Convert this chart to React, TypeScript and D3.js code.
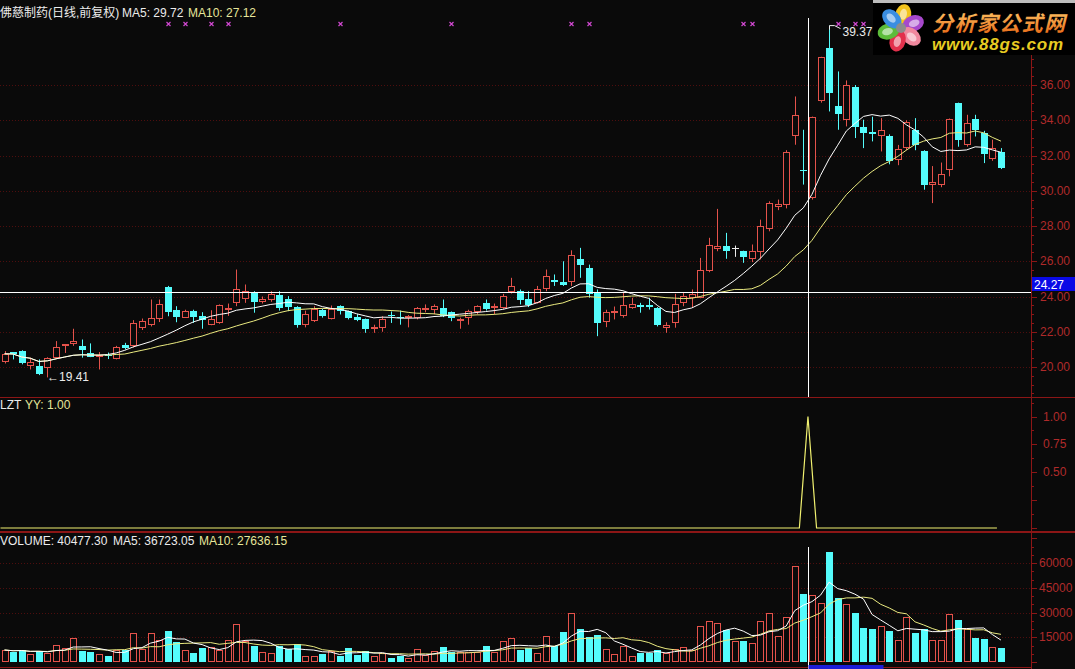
import React from 'react';
import * as d3 from 'd3';

// ── Daily bars ────────────────────────────────────────────────────────────────
const OPEN = [
  20.27, 20.84, 20.9, 20.05, 20.05, 19.96, 20.53, 21.2, 21.28, 21.18,
  20.77, 20.6, 20.7, 20.43, 21.22, 21.18, 22.23, 22.41, 22.7, 24.55,
  23.22, 22.79, 23.17, 22.88, 22.37, 22.51, 23.22, 23.64, 23.87, 24.24,
  23.7, 23.79, 24.1, 23.87, 23.42, 22.36, 22.6, 23.26, 22.74, 23.45,
  23.17, 22.85, 22.7, 22.17, 22.23, 22.95, 22.85, 22.83, 22.79, 23.3,
  23.26, 23.36, 23.11, 22.6, 22.79, 23.11, 23.64, 23.4, 23.36, 24.24,
  24.3, 23.83, 23.64, 24.44, 24.95, 24.8, 24.81, 26.1, 25.59, 24.21,
  22.54, 23.12, 22.88, 23.36, 23.5, 23.5, 23.36, 22.23, 22.51, 23.64,
  23.93, 23.93, 25.43, 26.7, 26.89, 26.76, 26.57, 26.14, 26.51, 27.84,
  29.08, 29.2, 33.08, 31.2, 29.6, 35.12, 38.09, 34.82, 34.03, 35.88,
  33.6, 33.35, 33.12, 33.08, 31.72, 32.42, 33.46, 32.23, 30.3, 30.35,
  31.2, 34.97, 32.61, 34.07, 33.27, 31.8, 32.18,
];
const HIGH = [
  20.9, 20.85, 20.95, 20.53, 20.43, 20.55, 21.47, 21.3, 22.17, 21.56,
  21.34, 20.85, 20.82, 21.2, 21.37, 22.66, 22.75, 23.83, 23.83, 24.6,
  23.45, 23.25, 23.25, 23.11, 23.22, 23.55, 23.6, 25.53, 24.68, 24.3,
  24.0, 24.3, 24.3, 24.02, 23.45, 23.2, 23.45, 23.3, 23.49, 23.5,
  23.2, 23.0, 22.75, 22.4, 22.88, 23.15, 23.2, 22.95, 23.4, 23.55,
  23.55, 23.83, 23.15, 22.8, 23.25, 23.5, 23.83, 23.6, 24.15, 25.06,
  24.4, 24.3, 24.6, 25.53, 25.25, 26.0, 26.62, 26.76, 25.81, 24.4,
  23.25, 23.43, 24.21, 23.93, 23.64, 23.93, 23.4, 22.54, 24.15, 24.21,
  24.4, 26.19, 27.33, 28.97, 27.61, 26.89, 26.6, 26.95, 28.36, 29.4,
  29.5, 32.3, 35.35, 33.46, 34.21, 37.6, 39.37, 36.77, 36.26, 36.0,
  34.03, 34.2, 34.12, 33.2, 32.6, 34.0, 34.12, 32.3, 31.4, 31.6,
  34.1, 35.0, 34.31, 34.31, 33.4, 32.9, 32.42,
];
const LOW = [
  20.2, 20.43, 20.15, 19.86, 19.54, 19.41, 20.5, 20.8, 21.2, 20.53,
  20.56, 19.86, 20.45, 20.43, 21.0, 21.1, 22.1, 22.3, 22.55, 22.88,
  22.54, 22.79, 22.5, 22.17, 22.37, 22.45, 22.9, 23.45, 23.64, 23.08,
  23.6, 23.7, 23.2, 23.17, 22.23, 22.25, 22.55, 22.8, 22.7, 22.98,
  22.7, 22.6, 21.94, 21.94, 22.0, 22.5, 22.4, 22.25, 22.7, 23.1,
  23.0, 22.83, 22.6, 22.17, 22.4, 23.0, 23.2, 23.0, 23.3, 24.17,
  23.55, 23.4, 23.6, 24.3, 24.6, 24.6, 24.6, 25.06, 23.93, 21.75,
  22.26, 22.7, 22.8, 23.3, 23.08, 23.26, 22.3, 21.94, 22.23, 23.45,
  23.36, 23.9, 25.38, 26.57, 26.14, 26.25, 25.91, 25.95, 26.1, 27.7,
  28.9, 29.0, 32.61, 30.35, 29.5, 35.0, 34.5, 33.46, 33.65, 32.99,
  32.42, 32.8, 32.23, 31.5, 31.45, 32.3, 32.3, 30.06, 29.3, 30.2,
  30.82, 32.5, 32.5, 33.08, 31.57, 31.7, 31.23,
];
const CLOSE = [
  20.75, 20.72, 20.24, 20.28, 19.58, 20.53, 21.15, 21.28, 21.45, 20.96,
  20.58, 20.66, 20.62, 21.15, 21.1, 22.47, 22.6, 22.79, 23.55, 23.11,
  22.85, 23.17, 22.83, 22.66, 22.74, 23.49, 23.36, 24.44, 24.3, 23.68,
  23.83, 24.17, 23.36, 23.39, 22.36, 22.98, 23.3, 22.88, 23.3, 23.17,
  22.79, 22.66, 22.17, 22.28, 22.75, 22.9, 22.8, 22.9, 23.36, 23.36,
  23.45, 22.92, 22.79, 22.75, 23.17, 23.45, 23.3, 23.45, 24.05, 24.58,
  23.79, 23.49, 24.4, 25.19, 24.85, 24.68, 26.34, 25.77, 24.15, 22.51,
  23.11, 23.17, 23.49, 23.55, 23.43, 23.4, 22.36, 22.36, 23.55, 24.02,
  24.15, 25.53, 26.95, 26.89, 26.57, 26.76, 26.25, 26.57, 27.98, 29.31,
  29.27, 32.18, 34.31, 31.1, 34.21, 37.58, 35.54, 34.37, 36.01, 33.61,
  33.27, 33.2, 33.46, 31.67, 32.37, 33.88, 32.61, 30.35, 30.5, 30.97,
  34.07, 32.9, 33.84, 33.42, 32.1, 32.42, 31.29,
];
const VOLUME = [
  7300, 6300, 7300, 4900, 6700, 5700, 10200, 8400, 14400, 6900,
  6300, 4700, 3700, 7300, 7300, 17400, 7800, 17400, 13400, 19000,
  12400, 7300, 5300, 8700, 9000, 7300, 13400, 22900, 12800, 9900,
  5900, 5300, 9900, 7800, 11000, 3700, 3700, 4900, 6700, 3700,
  8400, 4300, 6700, 3700, 5300, 2700, 3900, 2300, 7800, 4300,
  6700, 9000, 6300, 6300, 6300, 6300, 9800, 6300, 12800, 14400,
  7300, 8400, 5300, 16000, 9800, 18000, 29600, 19900, 15000, 16400,
  7800, 4700, 9800, 3700, 5700, 5300, 7300, 5300, 7800, 9000,
  7300, 21900, 24900, 23500, 19400, 12800, 13000, 11400, 24900, 29600,
  16000, 27100, 58200, 41200, 40477.3, 35600, 66500, 38600, 35000, 29900,
  20500, 19900, 22000, 18800, 13400, 27500, 17800, 19900, 13400, 13400,
  29100, 25500, 19900, 14800, 14000, 9000, 8700,
];

const LZT_DAYS = [94]; // limit-up signal
const MARK_DAYS = [19, 21, 24, 26, 39, 52, 66, 68, 86, 87, 97, 99, 100];
const CROSS_DAY = 94;
const CROSS_PRICE = 24.27;
const LOW_DAY = 5;
const HIGH_DAY = 96;

const PRICE_TICKS = [20, 22, 24, 26, 28, 30, 32, 34, 36];
const LZT_TICKS = [0.5, 0.75, 1];
const VOL_TICKS = [15000, 30000, 45000, 60000];

const TITLE = '佛慈制药(日线,前复权)';
const PRICE_MA_LABELS = ['MA5: 29.72', 'MA10: 27.12'];
const LZT_LABELS = ['LZT', 'YY: 1.00'];
const VOL_LABELS = ['VOLUME: 40477.30', 'MA5: 36723.05', 'MA10: 27636.15'];

// ── Layout / colours ──────────────────────────────────────────────────────────
const W = 1075;
const H = 669;
const AXIS_X = 1031;
const STEP = 8.59;
const BG = '#0a0a0a';
const UP = '#e4524b';
const DOWN = '#54fcfc';
const GRID = '#4e0e0e';
const AXIS = '#8c1616';
const LABEL = '#b02a2a';
const WHITE = '#ececec';
const PALE = '#e6e69a';
const FONT = "'Liberation Sans', Arial, 'Noto Sans CJK SC', sans-serif";

function movingAvg(vals: number[], n: number) {
  return vals.map((_, i) => d3.mean(vals.slice(Math.max(0, i - n + 1), i + 1)) as number);
}

export default function App() {
  const n = CLOSE.length;
  const x = d3.scaleLinear().domain([0, n - 1]).range([4.5, 4.5 + (n - 1) * STEP]);
  const yP = d3.scaleLinear().domain([20, 36]).range([367, 85]);
  const yL = d3.scaleLinear().domain([0, 1]).range([528, 416.5]);
  const yV = d3.scaleLinear().domain([0, 60000]).range([662, 563]);

  // the price lines match 10- and 20-day averages of the closes
  const maA = movingAvg(CLOSE, 10);
  const maB = movingAvg(CLOSE, 20);
  const vmaA = movingAvg(VOLUME, 5);
  const vmaB = movingAvg(VOLUME, 10);
  const lzt = CLOSE.map((_, i) => (LZT_DAYS.includes(i) ? 1 : 0));

  const cx = (i: number) => Math.round(x(i));
  const crossX = cx(CROSS_DAY) - 4 + 0.5;

  const priceLine = d3.line<number>().x((_, i) => x(i)).y((v) => yP(v));
  const volLine = d3.line<number>().x((_, i) => x(i)).y((v) => yV(v));
  const lztLine = d3.line<number>().x((_, i) => x(i) - 4).y((v) => yL(v));

  const minorP = d3.range(18.5, 41, 0.5).filter((v) => yP(v) > 4 && yP(v) < 395);
  const minorL = d3.range(0, 1.2, 0.125);
  const minorV = d3.range(0, 80000, 5000).filter((v) => yV(v) > 536);

  const hx = cx(HIGH_DAY) + 0.5;
  const hy = yP(HIGH[HIGH_DAY]);
  const ly = yP(LOW[LOW_DAY]);
  const cy = Math.round(yP(CROSS_PRICE)) + 0.5;

  const petals = [
    { a: -80, c: '#f3c41c' },
    { a: -20, c: '#a748cc' },
    { a: 40, c: '#f0889e' },
    { a: 105, c: '#e2304c' },
    { a: 165, c: '#5cbc3a' },
    { a: 225, c: '#3a8ee2' },
  ];

  return (
    <div style={{ position: 'absolute', left: 0, top: 0, width: W, height: H, background: BG, overflow: 'hidden' }}>
      <svg width={W} height={H} style={{ display: 'block', fontFamily: FONT }}>
        <defs>
          <linearGradient id="logoText" x1="0" y1="0" x2="0" y2="1">
            <stop offset="0%" stopColor="#ffd070" />
            <stop offset="100%" stopColor="#e5600e" />
          </linearGradient>
        </defs>
        <rect width={W} height={H} fill={BG} />

        {/* ── grid ── */}
        {PRICE_TICKS.map((t) => (
          <line key={'gp' + t} x1={0} x2={AXIS_X} y1={Math.round(yP(t)) + 0.5} y2={Math.round(yP(t)) + 0.5}
            stroke={GRID} strokeDasharray="1 2" />
        ))}
        {VOL_TICKS.map((t) => (
          <line key={'gv' + t} x1={0} x2={AXIS_X} y1={Math.round(yV(t)) + 0.5} y2={Math.round(yV(t)) + 0.5}
            stroke={GRID} strokeDasharray="1 2" />
        ))}

        {/* ── panel frames & right axis ── */}
        <line x1={0} x2={W} y1={397.5} y2={397.5} stroke={AXIS} />
        <line x1={0} x2={W} y1={532} y2={532} stroke={AXIS} strokeWidth={2} />
        <line x1={0} x2={AXIS_X} y1={667.5} y2={667.5} stroke={AXIS} />
        <line x1={AXIS_X + 0.5} x2={AXIS_X + 0.5} y1={0} y2={H} stroke={AXIS} />
        {minorP.map((v) => (
          <line key={'mp' + v} x1={AXIS_X} x2={AXIS_X + (v % 2 === 0 ? 6 : 3)}
            y1={Math.round(yP(v)) + 0.5} y2={Math.round(yP(v)) + 0.5} stroke={AXIS} />
        ))}
        {minorL.map((v) => (
          <line key={'ml' + v} x1={AXIS_X} x2={AXIS_X + (v % 0.25 === 0 ? 6 : 3)}
            y1={Math.round(yL(v)) + 0.5} y2={Math.round(yL(v)) + 0.5} stroke={AXIS} />
        ))}
        {minorV.map((v) => (
          <line key={'mv' + v} x1={AXIS_X} x2={AXIS_X + (v % 15000 === 0 ? 6 : 3)}
            y1={Math.round(yV(v)) + 0.5} y2={Math.round(yV(v)) + 0.5} stroke={AXIS} />
        ))}
        {PRICE_TICKS.map((t) => (
          <text key={'lp' + t} x={1040} y={yP(t) + 4} fontSize={12} fill={LABEL}>{t.toFixed(2)}</text>
        ))}
        {LZT_TICKS.map((t) => (
          <text key={'ll' + t} x={1043} y={yL(t) + 4} fontSize={12} fill={LABEL}>{t.toFixed(2)}</text>
        ))}
        {VOL_TICKS.map((t) => (
          <text key={'lv' + t} x={1039} y={yV(t) + 4} fontSize={12} fill={LABEL}>{t}</text>
        ))}

        {/* ── candles ── */}
        {CLOSE.map((c, i) => {
          const o = OPEN[i];
          const col = c > o ? UP : c < o ? DOWN : WHITE;
          const xc = cx(i);
          const top = Math.round(yP(Math.max(o, c)));
          const bot = Math.max(top + 1, Math.round(yP(Math.min(o, c))));
          return (
            <g key={'k' + i}>
              <line x1={xc + 0.5} x2={xc + 0.5} y1={yP(HIGH[i])} y2={yP(LOW[i])} stroke={col} />
              {c > o ? (
                <rect x={xc - 3 + 0.5} y={top + 0.5} width={6} height={Math.max(1, bot - top - 1)}
                  fill={BG} stroke={col} />
              ) : c < o ? (
                <rect x={xc - 3} y={top} width={7} height={bot - top} fill={col} />
              ) : (
                <line x1={xc - 3} x2={xc + 4} y1={top + 0.5} y2={top + 0.5} stroke={col} />
              )}
            </g>
          );
        })}

        {/* price moving averages */}
        <path d={priceLine(maB) ?? ''} fill="none" stroke="#eaea80" strokeWidth={1} />
        <path d={priceLine(maA) ?? ''} fill="none" stroke="#ffffff" strokeWidth={1} />

        {/* signal crosses along the top */}
        {MARK_DAYS.map((d) => (
          <path key={'x' + d} transform={`translate(${cx(d) + 0.5},24)`}
            d="M-2,-2L2,2M2,-2L-2,2" stroke="#d048d0" strokeWidth={1.2} />
        ))}

        {/* high / low notes */}
        <path d={`M${hx},${hy + 4}V${hy}H${hx + 5}L${hx + 11},${hy + 3}`} fill="none" stroke={WHITE} />
        <text x={hx + 13} y={hy + 10} fontSize={12} fill={WHITE}>{HIGH[HIGH_DAY].toFixed(2)}</text>
        <text x={cx(LOW_DAY)} y={ly + 4} fontSize={12} fill={WHITE}>{'←' + LOW[LOW_DAY].toFixed(2)}</text>

        {/* ── LZT panel ── */}
        <path d={lztLine(lzt) ?? ''} fill="none" stroke="#f0f070" strokeWidth={1.2} />

        {/* ── volume bars ── */}
        {VOLUME.map((v, i) => {
          const up = CLOSE[i] >= OPEN[i];
          const xc = cx(i);
          const top = Math.round(yV(v));
          const bot = Math.round(yV(0));
          return up ? (
            <rect key={'v' + i} x={xc - 3 + 0.5} y={top + 0.5} width={6} height={bot - top - 1}
              fill={BG} stroke={UP} />
          ) : (
            <rect key={'v' + i} x={xc - 3} y={top} width={7} height={bot - top} fill={DOWN} />
          );
        })}
        <path d={volLine(vmaB) ?? ''} fill="none" stroke="#eaea80" strokeWidth={1} />
        <path d={volLine(vmaA) ?? ''} fill="none" stroke="#ffffff" strokeWidth={1} />

        {/* ── crosshair ── */}
        <line x1={crossX} x2={crossX} y1={18} y2={397} stroke="#ffffff" />
        <line x1={crossX} x2={crossX} y1={547} y2={H} stroke="#ffffff" />
        <line x1={0} x2={AXIS_X} y1={cy} y2={cy} stroke="#ffffff" />
        <rect x={AXIS_X + 1} y={cy - 15.5} width={W - AXIS_X} height={14} fill="#0a0ae6" />
        <text x={AXIS_X + 3} y={cy - 4} fontSize={12} fill="#ffffff">{CROSS_PRICE.toFixed(2)}</text>
        <rect x={crossX} y={665} width={75} height={4} fill="#1c1cd8" />

        {/* ── headers ── */}
        <text x={0} y={17} fontSize={12} fill={WHITE}>{TITLE}</text>
        <text x={122} y={17} fontSize={12} fill={WHITE}>{PRICE_MA_LABELS[0]}</text>
        <text x={188} y={17} fontSize={12} fill={PALE}>{PRICE_MA_LABELS[1]}</text>
        <text x={0} y={409} fontSize={12} fill={WHITE}>{LZT_LABELS[0]}</text>
        <text x={25} y={409} fontSize={12} fill={PALE}>{LZT_LABELS[1]}</text>
        <text x={0} y={545} fontSize={12} fill={WHITE}>{VOL_LABELS[0]}</text>
        <text x={113} y={545} fontSize={12} fill={WHITE}>{VOL_LABELS[1]}</text>
        <text x={199} y={545} fontSize={12} fill={PALE}>{VOL_LABELS[2]}</text>

        {/* ── watermark logo ── */}
        <g>
          <rect x={873} y={0} width={W - 873} height={3} fill="#bdbdbd" />
          <rect x={873} y={3} width={W - 873} height={52} fill="#000" />
          <g transform="translate(901,28)">
            {petals.map((p) => (
              <g key={p.a} transform={`rotate(${p.a}) translate(13,0)`}>
                <ellipse rx={11} ry={8} fill={p.c} />
                <ellipse rx={5.5} ry={3.5} cx={1} fill="#ffffff" opacity={0.55} />
              </g>
            ))}
            <circle r={5} fill="#8c8c8c" />
          </g>
          <text x={932} y={31} fontSize={21} fontWeight="bold" fill="url(#logoText)"
            fontFamily="'Noto Sans CJK SC', sans-serif" textLength={133} fontStyle="italic">分析家公式网</text>
          <text x={932} y={50} fontSize={17} fontWeight="bold" fontStyle="italic" fill="#e8cc22"
            textLength={131}>www.88gs.com</text>
        </g>
      </svg>
    </div>
  );
}
